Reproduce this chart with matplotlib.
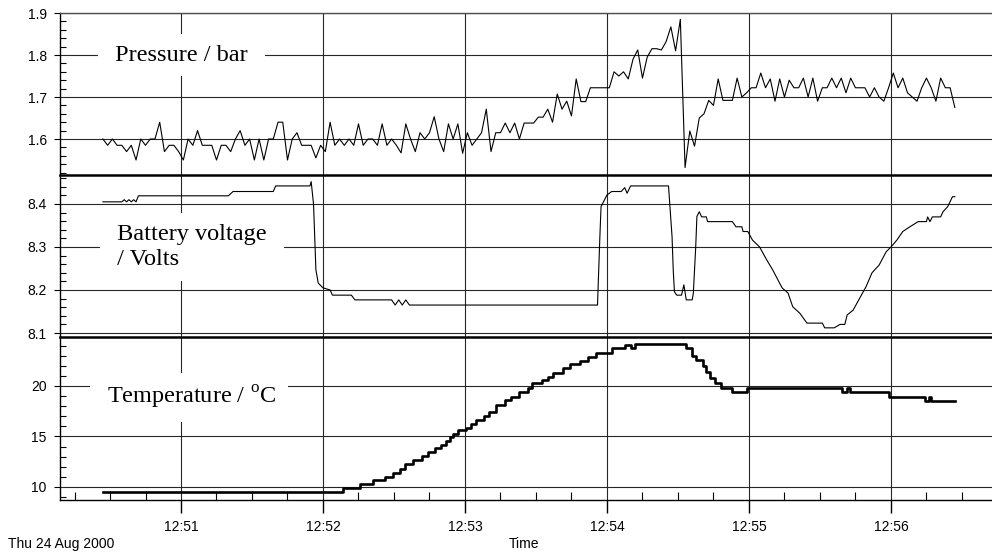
import numpy as np
import matplotlib.pyplot as plt
from matplotlib.ticker import MultipleLocator, FuncFormatter

plt.rcParams['font.family'] = 'Liberation Sans'
plt.rcParams['mathtext.fontset'] = 'custom'
plt.rcParams['mathtext.rm'] = 'Liberation Serif'

# time axis is seconds after 12:50:00, first sample at 12:50:27
start = 27

# pressure, one reading every 2 s
p_step = 2
pressure = [1.600, 1.585, 1.600, 1.585, 1.585, 1.570, 1.585, 1.550, 1.600, 1.585,
            1.600, 1.600, 1.640, 1.570, 1.585, 1.585, 1.570, 1.550, 1.600, 1.585,
            1.620, 1.585, 1.585, 1.585, 1.550, 1.585, 1.585, 1.570, 1.600, 1.620,
            1.585, 1.600, 1.550, 1.600, 1.550, 1.600, 1.600, 1.640, 1.640, 1.550,
            1.600, 1.615, 1.585, 1.585, 1.585, 1.555, 1.585, 1.570, 1.640, 1.585,
            1.600, 1.585, 1.600, 1.585, 1.636, 1.585, 1.600, 1.600, 1.585, 1.636,
            1.585, 1.600, 1.585, 1.567, 1.636, 1.600, 1.570, 1.615, 1.600, 1.615,
            1.653, 1.600, 1.570, 1.636, 1.600, 1.636, 1.566, 1.615, 1.585, 1.600,
            1.615, 1.671, 1.570, 1.615, 1.615, 1.638, 1.615, 1.638, 1.600, 1.638,
            1.638, 1.638, 1.652, 1.652, 1.671, 1.640, 1.707, 1.671, 1.690, 1.655,
            1.743, 1.689, 1.689, 1.722, 1.722, 1.722, 1.722, 1.722, 1.760, 1.750,
            1.760, 1.743, 1.790, 1.812, 1.745, 1.795, 1.815, 1.815, 1.812, 1.832,
            1.867, 1.810, 1.885, 1.532, 1.619, 1.583, 1.650, 1.660, 1.692, 1.680,
            1.743, 1.692, 1.692, 1.692, 1.745, 1.700, 1.710, 1.722, 1.722, 1.757,
            1.722, 1.743, 1.690, 1.743, 1.700, 1.740, 1.722, 1.722, 1.745, 1.700,
            1.745, 1.690, 1.722, 1.722, 1.745, 1.722, 1.745, 1.710, 1.745, 1.722,
            1.722, 1.722, 1.700, 1.722, 1.700, 1.690, 1.722, 1.757, 1.722, 1.745,
            1.710, 1.700, 1.690, 1.722, 1.745, 1.722, 1.690, 1.745, 1.722, 1.722,
            1.675]

# battery voltage, (seconds after first sample, volts)
volt_t = [0, 8, 9, 10, 11, 12, 13, 14, 15,
          53, 55, 72, 73, 87.5, 88, 89, 90, 91, 93,
          96, 97, 105, 106.5, 122, 123.5, 125, 126.5, 128, 129.5,
          131, 209, 210, 210.5, 212, 213, 215, 219, 220.5, 221.5,
          223, 239, 240.5, 241, 241.5, 242.5, 244.5, 245.5, 246.5, 249,
          249.5, 250.5, 251, 252, 253, 255, 255.5, 266, 267.5, 270,
          270.5, 272.5, 274.5, 277.5, 280.5, 283, 287, 289.5, 291.5, 294.5,
          297.5, 304, 305, 309, 311.5, 313.5, 314.5, 317, 320.5, 322.5,
          325, 328, 331, 333, 335.5, 338, 341, 344.5, 348, 348.5,
          349.5, 350.5, 354, 355, 357, 359, 360]
volt_v = [8.405, 8.405, 8.41, 8.405, 8.41, 8.405, 8.41, 8.405, 8.419,
          8.419, 8.429, 8.429, 8.442, 8.442, 8.452, 8.40, 8.247, 8.216, 8.205,
          8.2, 8.188, 8.188, 8.177, 8.177, 8.165, 8.177, 8.165, 8.177, 8.165,
          8.165, 8.165, 8.324, 8.394, 8.41, 8.421, 8.429, 8.429, 8.438, 8.425,
          8.442, 8.442, 8.324, 8.247, 8.196, 8.188, 8.188, 8.212, 8.177, 8.177,
          8.193, 8.30, 8.371, 8.382, 8.37, 8.37, 8.359, 8.359, 8.347, 8.347,
          8.336, 8.336, 8.316, 8.30, 8.27, 8.247, 8.205, 8.193, 8.161, 8.146,
          8.123, 8.123, 8.112, 8.112, 8.12, 8.12, 8.142, 8.153, 8.188, 8.208,
          8.24, 8.258, 8.289, 8.30, 8.316, 8.336, 8.347, 8.359, 8.359, 8.37,
          8.359, 8.37, 8.37, 8.382, 8.394, 8.417, 8.417]

# temperature steps, (seconds after first sample, deg C)
temp_t = [0, 101.5, 108.5, 114, 119, 122.5, 125.5, 127.5, 131, 135,
          137.5, 140.5, 143, 145, 146.5, 148, 150, 153.5, 155.5, 157.5,
          161, 163, 166, 170, 172.5, 176, 179.5, 181.5, 185.5, 188,
          190, 194.5, 197.5, 201.5, 205, 208.5, 215, 220.5, 223, 225,
          246.5, 249, 250.5, 253.5, 255, 256.5, 258.5, 261, 266, 272,
          312.5, 314.5, 315.5, 332, 347.5, 349, 350, 360]
temp_v = [9.5, 9.87, 10.27, 10.7, 11.0, 11.4, 11.75, 12.25, 12.67, 13.07,
          13.5, 13.83, 14.2, 14.6, 14.98, 15.2, 15.64, 15.8, 16.2, 16.63,
          17.03, 17.46, 18.1, 18.6, 18.94, 19.44, 19.77, 20.27, 20.6, 20.9,
          21.3, 21.75, 22.15, 22.48, 22.9, 23.3, 23.73, 24.06, 23.73, 24.13,
          23.73, 23.0, 22.57, 22.0, 21.4, 20.76, 20.27, 19.77, 19.37, 19.77,
          19.37, 19.77, 19.37, 18.94, 18.54, 18.94, 18.54, 18.54]

p_time = start + p_step * np.arange(len(pressure))
v_time = start + np.array(volt_t)
t_time = start + np.array(temp_t)


def hhmm(s, pos):
    m = 50 + int(round(s / 60))
    return '%d:%02d' % (12 + m // 60, m % 60)


W, H = 992, 554
edges = [13, 175, 337, 500]
left = 60 / W

fig = plt.figure(figsize=(W / 100, H / 100), dpi=100)
axes = []
for i in range(3):
    y0 = 1 - edges[i + 1] / H
    h = (edges[i + 1] - edges[i]) / H
    ax = fig.add_axes([left, y0, 1 - left, h], sharex=axes[0] if axes else None)
    axes.append(ax)
ax_p, ax_v, ax_t = axes

ax_p.plot(p_time, pressure, color='black', lw=0.8)
ax_v.plot(v_time, volt_v, color='black', lw=0.8)
ax_t.plot(t_time, temp_v, color='black', lw=1.9, drawstyle='steps-post')

ax_p.set_ylim(1.5143, 1.9)
ax_v.set_ylim(8.0907, 8.4674)
ax_t.set_ylim(8.71, 24.85)
ax_t.set_xlim(8.87, 402.7)

ax_p.yaxis.set_major_locator(MultipleLocator(0.1))
ax_p.yaxis.set_minor_locator(MultipleLocator(0.02))
ax_v.yaxis.set_major_locator(MultipleLocator(0.1))
ax_v.yaxis.set_minor_locator(MultipleLocator(0.02))
ax_t.yaxis.set_major_locator(MultipleLocator(5))
ax_t.yaxis.set_minor_locator(MultipleLocator(1))
ax_p.yaxis.set_major_formatter(FuncFormatter(lambda v, pos: '%.1f' % v))
ax_v.yaxis.set_major_formatter(FuncFormatter(lambda v, pos: '%.1f' % v))

ax_t.xaxis.set_major_locator(MultipleLocator(60))
ax_t.xaxis.set_minor_locator(MultipleLocator(15))
ax_t.xaxis.set_major_formatter(FuncFormatter(hhmm))

for ax in axes:
    ax.grid(True, which='major', color='0.15', lw=0.8)
    ax.tick_params(axis='y', which='major', direction='out', length=4.5, width=0.8,
                   pad=5, labelsize=10)
    ax.tick_params(axis='y', which='minor', direction='in', length=4, width=0.8)
    ax.spines['right'].set_visible(False)
    ax.spines['left'].set_linewidth(1)
    ax.spines['bottom'].set_visible(False)

for ax in (ax_p, ax_v):
    ax.tick_params(axis='x', which='both', bottom=False, labelbottom=False)

ax_p.spines['top'].set_linewidth(1)
ax_p.spines['top'].set_color('0.3')
ax_v.spines['top'].set_linewidth(1.8)
ax_t.spines['top'].set_linewidth(1.8)
ax_t.spines['bottom'].set_visible(True)
ax_t.spines['bottom'].set_linewidth(1)
ax_t.tick_params(axis='x', which='major', direction='out', length=9.5, width=1,
                 pad=5, labelsize=10)
ax_t.tick_params(axis='x', which='minor', direction='in', length=5.5, width=0.8)

# a space either side widens the white box more than it heightens it
box = dict(facecolor='white', edgecolor='none', boxstyle='square,pad=0.45')
label_font = dict(family='Liberation Serif', size=17.5)
ax_p.text(29.5, 1.80, ' Pressure / bar ', ha='left', va='center', bbox=box, **label_font)
ax_v.text(30.5, 8.30, ' Battery voltage \n / Volts', ha='left', va='center',
          linespacing=1.2, bbox=box, **label_font)
ax_t.text(26.2, 18.9, r' Temperature / $^{\mathrm{o}}$C ', ha='left', va='center',
          bbox=box, **label_font)

fig.text(8 / W, 1 - 548 / H, 'Thu 24 Aug 2000', ha='left', va='baseline', fontsize=10)
fig.text(524 / W, 1 - 548 / H, 'Time', ha='center', va='baseline', fontsize=10)

fig.savefig('out.png', dpi=100)
